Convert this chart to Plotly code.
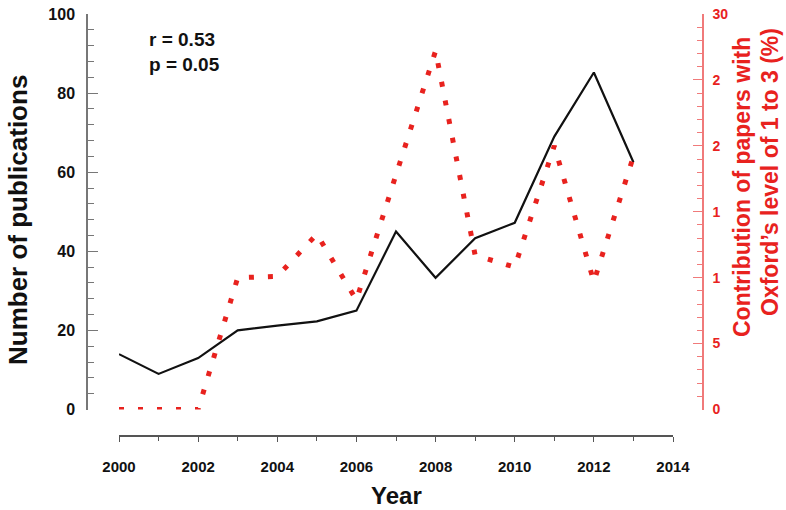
import plotly.graph_objects as go

years = [2000, 2001, 2002, 2003, 2004, 2005, 2006, 2007, 2008, 2009, 2010, 2011, 2012, 2013]
publications = [14, 9, 13, 20, 21.2, 22.3, 25, 45, 33.3, 43.3, 47.2, 69, 85.2, 62.5]
contribution = [0, 0, 0, 10, 10.1, 13.3, 8.3, 17.8, 27.2, 11.7, 10.8, 20.0, 9.7, 19.2]
right_alias = {"10": "1", "15": "1", "20": "2", "25": "2"}

W, H = 786, 510
ML, MR, MT, MB = 87, 83, 14, 74
PW, PH = W - ML - MR, H - MT - MB

def px(x):
    return (x - ML) / PW

def py(y):
    return (H - MB - y) / PH

FONT = "Liberation Sans, Arial, sans-serif"
RED = "#e8221e"

fig = go.Figure()
fig.add_trace(go.Scatter(
    x=years, y=publications, mode="lines",
    line=dict(color="#111111", width=2.2), cliponaxis=False,
    yaxis="y", showlegend=False))
fig.add_trace(go.Scatter(
    x=years, y=contribution, mode="lines",
    line=dict(color=RED, width=5, dash="5px,14px"), cliponaxis=False,
    yaxis="y2", showlegend=False))

fig.update_layout(
    width=W, height=H,
    margin=dict(l=ML, r=MR, t=MT, b=MB, autoexpand=False),
    plot_bgcolor="white", paper_bgcolor="white",
    font=dict(family=FONT),
    xaxis=dict(
        range=[2000, 2014], domain=[px(119), px(673)],
        anchor="free", position=0, automargin=False,
        tickmode="linear", tick0=2000, dtick=2,
        ticks="outside", ticklen=5, tickwidth=1, tickcolor="#555",
        minor=dict(dtick=1, tick0=2000, ticks="outside", ticklen=4, tickcolor="#555"),
        showline=True, linecolor="#555", linewidth=1.5,
        showgrid=False, zeroline=False,
        tickfont=dict(size=15, color="#111", weight="bold"),
        ticklabelstandoff=12,
    ),
    yaxis=dict(
        range=[0, 100], domain=[py(409.5), 1],
        anchor="free", position=0, side="left", automargin=False,
        tickmode="linear", tick0=0, dtick=20,
        ticks="inside", ticklen=10, tickwidth=1, tickcolor="#777",
        minor=dict(dtick=4, tick0=0, ticks="inside", ticklen=6, tickcolor="#777"),
        showline=True, linecolor="#777", linewidth=1.5,
        showgrid=False, zeroline=False,
        tickfont=dict(size=16, color="#111", weight="bold"),
        ticklabelstandoff=8,
    ),
    yaxis2=dict(
        range=[0, 30], domain=[py(409.5), 1],
        overlaying="y", anchor="free", position=1, side="right", automargin=False,
        tickmode="linear", tick0=0, dtick=5,
        labelalias=right_alias,
        ticks="inside", ticklen=9, tickwidth=1, tickcolor="#f07a7a",
        minor=dict(dtick=1, tick0=0, ticks="inside", ticklen=5, tickcolor="#f07a7a"),
        showline=True, linecolor="#f07a7a", linewidth=1.5,
        showgrid=False, zeroline=False,
        tickfont=dict(size=14, color=RED, weight="bold"),
        ticklabelstandoff=6,
    ),
    annotations=[
        dict(text="r = 0.53", x=px(147), y=py(40), xref="paper", yref="paper",
             xanchor="left", yanchor="middle", showarrow=False,
             font=dict(size=19, color="#111", weight="bold")),
        dict(text="p = 0.05", x=px(147), y=py(65), xref="paper", yref="paper",
             xanchor="left", yanchor="middle", showarrow=False,
             font=dict(size=19, color="#111", weight="bold")),
        dict(text="Year", x=px(396), y=py(495), xref="paper", yref="paper",
             xanchor="center", yanchor="middle", showarrow=False,
             font=dict(size=24, color="#111", weight="bold")),
        dict(text="Number of publications", x=px(18), y=py(220), xref="paper", yref="paper",
             xanchor="center", yanchor="middle", showarrow=False, textangle=-90,
             font=dict(size=26, color="#111", weight="bold")),
        dict(text="Contribution of papers with", x=px(742), y=py(187), xref="paper", yref="paper",
             xanchor="center", yanchor="middle", showarrow=False, textangle=-90,
             font=dict(size=23, color=RED, weight="bold")),
        dict(text="Oxford\u2019s level of 1 to 3 (%)", x=px(770), y=py(172), xref="paper", yref="paper",
             xanchor="center", yanchor="middle", showarrow=False, textangle=-90,
             font=dict(size=23, color=RED, weight="bold")),
    ],
)

fig.write_html("out.html", config={"displayModeBar": False},
               post_script="document.body.style.margin='0';document.body.style.overflow='hidden';")
